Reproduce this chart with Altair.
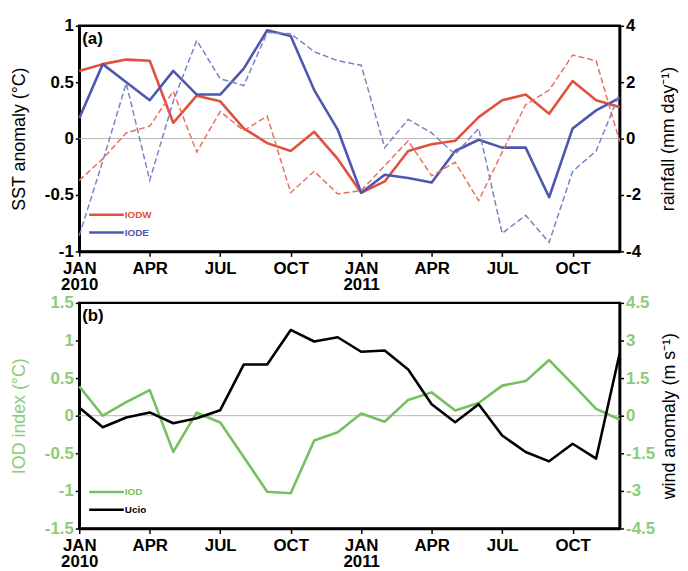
import altair as alt
import pandas as pd

# ---------------- data ----------------
months = list(range(24))  # JAN 2010 ... DEC 2011
tick_values = [0, 3, 6, 9, 12, 15, 18, 21]
tick_lines = [["JAN", "2010"], ["APR"], ["JUL"], ["OCT"],
              ["JAN", "2011"], ["APR"], ["JUL"], ["OCT"]]
sst_ticks = [-1, -0.5, 0, 0.5, 1]
rain_ticks = [-4, -2, 0, 2, 4]
iod_ticks = [-1.5, -1, -0.5, 0, 0.5, 1, 1.5]
wind_ticks = [-4.5, -3, -1.5, 0, 1.5, 3, 4.5]

iodw_sst = [0.60, 0.66, 0.70, 0.69, 0.14, 0.38, 0.33, 0.09, -0.04, -0.11, 0.06, -0.18,
            -0.48, -0.38, -0.11, -0.05, -0.02, 0.19, 0.34, 0.39, 0.22, 0.51, 0.34, 0.28]
iode_sst = [0.18, 0.66, 0.50, 0.34, 0.60, 0.39, 0.39, 0.62, 0.96, 0.91, 0.43, 0.08,
            -0.48, -0.32, -0.35, -0.39, -0.11, -0.01, -0.08, -0.08, -0.52, 0.09, 0.25, 0.36]
iodw_rain = [-1.48, -0.72, 0.20, 0.44, 1.68, -0.48, 0.96, 0.28, 0.80, -1.92, -1.16, -1.96,
             -1.84, -0.96, -0.08, -1.32, -0.84, -2.20, -0.48, 1.20, 1.72, 2.96, 2.76, -0.10]
iode_rain = [-3.44, -0.80, 1.96, -1.48, 1.32, 3.48, 2.12, 1.88, 3.76, 3.72, 3.08, 2.76,
             2.60, -0.32, 0.68, 0.20, -0.56, 0.36, -3.36, -2.72, -3.68, -1.16, -0.44, 1.60]
iod_index = [0.39, 0.00, 0.18, 0.34, -0.48, 0.04, -0.09, -0.55, -1.01, -1.03, -0.33, -0.22,
             0.03, -0.08, 0.21, 0.31, 0.07, 0.17, 0.40, 0.46, 0.74, 0.42, 0.09, -0.05]
ucio = [0.33, -0.46, -0.07, 0.13, -0.30, -0.10, 0.22, 2.04, 2.04, 3.42, 2.96, 3.13,
        2.55, 2.60, 1.84, 0.46, -0.26, 0.46, -0.79, -1.45, -1.82, -1.12, -1.71, 2.48]

sst_names = ["IODW", "IODE"]
rain_names = ["IODW rainfall", "IODE rainfall"]
bottom_names = ["IOD", "Ucio"]
panel_labels = ["(a)", "(b)"]

# ---------------- styling ----------------
FONT = "Liberation Sans"
RED = "#e2503d"
BLUE = "#4e57b0"
RED_L = "#e8705d"
BLUE_L = "#7a82c6"
GREEN = "#74c060"
GREEN_TXT = "#8ccb7a"
ZERO = "#b5b5b5"
W, H = 546, 228

label_expr = " : ".join(f"datum.value == {v} ? {t!r}" for v, t in zip(tick_values, tick_lines)) + " : ''"


def x_axis():
    return alt.Axis(values=tick_values, labelExpr=label_expr, title=None, grid=False,
                    labelFont=FONT, labelFontSize=17, labelFontWeight="bold", labelColor="black",
                    labelLineHeight=16, labelPadding=4, labelFlush=False, labelOverlap=False,
                    tickSize=5, tickColor="black", tickWidth=1.5,
                    domainColor="black", domainWidth=2.5)


def y_axis(values, title, orient, label_color="black", title_color="black", title_pad=14,
           title_size=18):
    extra = {"titleBaseline": "top"} if orient == "right" else {}
    return alt.Axis(values=values, labelExpr="datum.value + ''", title=title, orient=orient,
                    grid=False, labelFont=FONT, labelFontSize=17, labelFontWeight="bold",
                    labelColor=label_color, labelPadding=2, labelOverlap=False, labelFlush=False,
                    titleFont=FONT, titleFontSize=title_size, titleFontWeight="normal",
                    titleColor=title_color, titlePadding=title_pad, titleAngle=270,
                    tickSize=4, tickColor="black", tickWidth=1.5,
                    domainColor="black", domainWidth=2.5, **extra)


x_enc = alt.X("month:Q", scale=alt.Scale(domain=[0, 23], nice=False, zero=False), axis=x_axis())
one = pd.DataFrame({"k": [0]})


def legend_layers(names, colors):
    layers = []
    for i, (n, c) in enumerate(zip(names, colors)):
        yy = 191 + 18 * i
        layers.append(alt.Chart(one).mark_rule(color=c, strokeWidth=2.5).encode(
            x=alt.value(10), x2=alt.value(45), y=alt.value(yy)))
        layers.append(alt.Chart(one).mark_text(align="left", baseline="middle", color=c,
                                               font=FONT, fontSize=10, fontWeight="bold").encode(
            x=alt.value(46), y=alt.value(yy), text=alt.value(n)))
    return layers


def panel_label(t):
    return alt.Chart(pd.DataFrame({"t": [t]})).mark_text(
        align="left", baseline="top", font=FONT, fontSize=17, fontWeight="bold", color="black"
    ).encode(x=alt.value(3), y=alt.value(5), text="t:N")


def zero_rule(axis):
    return alt.Chart(one).mark_rule(color=ZERO, strokeWidth=1).encode(y=alt.YDatum(0, axis=axis))


color_scale = alt.Scale(domain=sst_names + rain_names, range=[RED, BLUE, RED_L, BLUE_L])

# ---------------- panel (a) ----------------
sst_df = pd.DataFrame({"month": months * 2, "value": iodw_sst + iode_sst,
                       "series": [sst_names[0]] * 24 + [sst_names[1]] * 24})
rain_df = pd.DataFrame({"month": months * 2, "rain": iodw_rain + iode_rain,
                        "series": [rain_names[0]] * 24 + [rain_names[1]] * 24})

axis_sst = y_axis(sst_ticks, "SST anomaly (°C)", "left", title_pad=16)
sst_lines = alt.Chart(sst_df).mark_line(strokeWidth=2.6, strokeJoin="round").encode(
    x=x_enc,
    y=alt.Y("value:Q", scale=alt.Scale(domain=[-1, 1], nice=False), axis=axis_sst),
    color=alt.Color("series:N", scale=color_scale, legend=None),
)
rain_lines = alt.Chart(rain_df).mark_line(strokeWidth=1.5, strokeDash=[6, 3]).encode(
    x=x_enc,
    y=alt.Y("rain:Q", scale=alt.Scale(domain=[-4, 4], nice=False),
            axis=y_axis(rain_ticks, "rainfall (mm day⁻¹)", "right", title_pad=19)),
    color=alt.Color("series:N", scale=color_scale, legend=None),
)
left_a = alt.layer(zero_rule(axis_sst), sst_lines, panel_label(panel_labels[0]),
                   *legend_layers(sst_names, [RED, BLUE]))
top = alt.layer(left_a, rain_lines).resolve_scale(y="independent").properties(width=W, height=H)

# ---------------- panel (b) ----------------
bot_df = pd.DataFrame({"month": months, "iod": iod_index, "ucio": ucio})
axis_iod = y_axis(iod_ticks, "IOD index (°C)", "left", label_color=GREEN_TXT,
                  title_color=GREEN_TXT, title_pad=16)
iod_line = alt.Chart(bot_df).mark_line(color=GREEN, strokeWidth=2.6, strokeJoin="round").encode(
    x=x_enc,
    y=alt.Y("iod:Q", scale=alt.Scale(domain=[-1.5, 1.5], nice=False), axis=axis_iod),
)
ucio_line = alt.Chart(bot_df).mark_line(color="black", strokeWidth=2.6, strokeJoin="round").encode(
    x=x_enc,
    y=alt.Y("ucio:Q", scale=alt.Scale(domain=[-4.5, 4.5], nice=False),
            axis=y_axis(wind_ticks, "wind anomaly (m s⁻¹)", "right", label_color=GREEN_TXT,
                        title_pad=6)),
)
left_b = alt.layer(zero_rule(axis_iod), iod_line, panel_label(panel_labels[1]),
                   *legend_layers(bottom_names, [GREEN, "black"]))
bottom = alt.layer(left_b, ucio_line).resolve_scale(y="independent").properties(width=W, height=H)

chart = alt.vconcat(top, bottom, spacing=52, bounds="flush").properties(
    padding={"left": 1, "top": 4, "right": 0, "bottom": 0}
).configure_view(stroke="black", strokeWidth=2.5).configure_axis(labelOverlap=False)

chart.save("out.html", embed_options={"renderer": "svg", "actions": False})
